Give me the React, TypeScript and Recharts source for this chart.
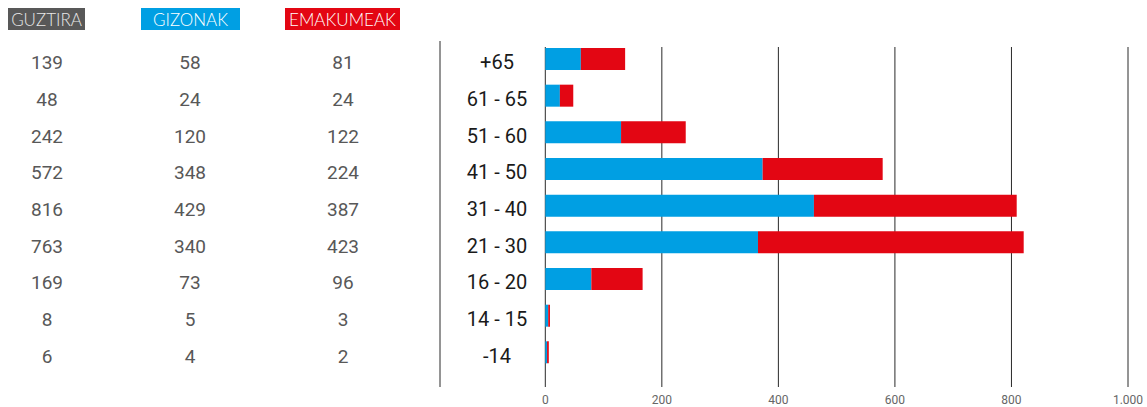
import React from 'react';
import { BarChart, Bar, XAxis, YAxis, CartesianGrid } from 'recharts';

const ageGroups = ['+65', '61 - 65', '51 - 60', '41 - 50', '31 - 40', '21 - 30', '16 - 20', '14 - 15', '-14'];
const totalCol = ['139', '48', '242', '572', '816', '763', '169', '8', '6'];
const menCol = ['58', '24', '120', '348', '429', '340', '73', '5', '4'];
const womenCol = ['81', '24', '122', '224', '387', '423', '96', '3', '2'];
// bar lengths as drawn in the picture
const menBars = [61, 25, 130, 373, 461, 365, 79, 5, 3];
const womenBars = [76, 23, 111, 206, 348, 456, 88, 3, 3];
const xTicks = [0, 200, 400, 600, 800, 1000];

const data = ageGroups.map((age, i) => ({ age, men: menBars[i], women: womenBars[i] }));

const headers = [
    { label: 'GUZTIRA', bg: '#585858', color: '#e8e8e8', left: 8, width: 77 },
    { label: 'GIZONAK', bg: '#009fe3', color: '#ffffff', left: 141, width: 99 },
    { label: 'EMAKUMEAK', bg: '#e30613', color: '#ffffff', left: 285, width: 115 },
];

const columnX = [39, 182, 335];

const TableTick = (props: any) => {
    const { y, payload } = props;
    const i = payload.index;
    const cols = [totalCol, menCol, womenCol];
    return (
        <g>
            {cols.map((col, c) => (
                <text key={c} x={columnX[c]} y={y + 10} textAnchor="middle" fontSize={19} fill="#585858" fontFamily="Roboto">
                    {col[i]}
                </text>
            ))}
        </g>
    );
};

const AgeTick = (props: any) => {
    const { y, payload } = props;
    return (
        <text x={489} y={y + 10} textAnchor="middle" fontSize={20} fill="#1a1a1a" fontFamily="Roboto">
            {payload.value}
        </text>
    );
};

const GridLine = (props: any) => {
    const { x1, x2, y1, y2 } = props;
    return <line x1={x1} x2={x2} y1={y1 + 6} y2={y2} stroke="#2a2a2a" strokeWidth={1} />;
};

export default function App() {
    return (
        <div style={{ position: 'relative', width: 1147, height: 407 }}>
            <style>{'body { margin: 0; }'}</style>
            {headers.map((h) => (
                <div
                    key={h.label}
                    style={{
                        position: 'absolute',
                        left: h.left,
                        top: 8,
                        width: h.width,
                        height: 22,
                        lineHeight: '23px',
                        background: h.bg,
                        color: h.color,
                        fontFamily: 'Lato',
                        fontWeight: 300,
                        fontSize: 17,
                        textAlign: 'center',
                    }}
                >
                    {h.label}
                </div>
            ))}
            <div style={{ position: 'absolute', left: 8, top: 8 }}>
                <BarChart
                    width={1139}
                    height={399}
                    data={data}
                    layout="vertical"
                    margin={{ top: 33, right: 19, left: 0, bottom: 0 }}
                >
                    <CartesianGrid horizontal={false} vertical={GridLine} />
                    <XAxis
                        type="number"
                        domain={[0, 1000]}
                        ticks={xTicks}
                        axisLine={false}
                        tickLine={false}
                        height={20}
                        interval={0}
                        tick={{ fontSize: 12, fill: '#666', fontFamily: 'Roboto' }}
                        tickFormatter={(v) => Number(v).toLocaleString('de-DE')}
                    />
                    <YAxis
                        yAxisId="age"
                        type="category"
                        dataKey="age"
                        width={105.3}
                        axisLine={false}
                        tickLine={false}
                        interval={0}
                        padding={{ top: 0, bottom: 16 }}
                        tick={AgeTick}
                    />
                    <YAxis
                        yAxisId="table"
                        type="category"
                        dataKey="age"
                        width={432}
                        axisLine={{ stroke: '#2a2a2a' }}
                        tickLine={false}
                        interval={0}
                        padding={{ top: 0, bottom: 16 }}
                        tick={TableTick}
                    />
                    <Bar yAxisId="age" dataKey="men" stackId="a" fill="#009fe3" barSize={22} isAnimationActive={false} />
                    <Bar yAxisId="age" dataKey="women" stackId="a" fill="#e30613" barSize={22} isAnimationActive={false} />
                </BarChart>
            </div>
        </div>
    );
}
